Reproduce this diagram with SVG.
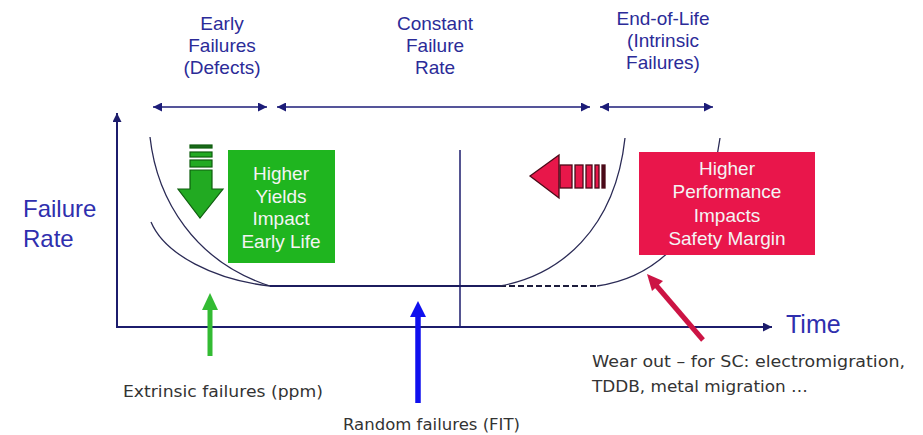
<svg xmlns="http://www.w3.org/2000/svg" width="923" height="435" viewBox="0 0 923 435">
<defs>
<style>
.hdr{font-family:"Liberation Sans",Arial,sans-serif;font-size:19px;fill:#2b2b98;text-anchor:middle}
.axl{font-family:"Liberation Sans",Arial,sans-serif;fill:#2f2fae}
.box{font-family:"Liberation Sans",Arial,sans-serif;font-size:19px;fill:#f4f4f4;text-anchor:middle}
.note{font-family:"DejaVu Sans",Verdana,sans-serif;font-size:15px;fill:#333}
.ax{stroke:#1c1c6c;stroke-width:2;fill:none}
.span{stroke:#1c1c78;stroke-width:1.6;fill:none}
.crv{stroke:#2a2a55;stroke-width:1.3;fill:none}
</style>
<marker id="ah" viewBox="0 0 10 10" refX="10" refY="5" markerWidth="11" markerHeight="9" markerUnits="userSpaceOnUse" orient="auto-start-reverse">
<path d="M0,0 L10,5 L0,10 Z" fill="#1c1c78"/>
</marker>
<marker id="axh" viewBox="0 0 10 10" refX="10" refY="5" markerWidth="12" markerHeight="9" markerUnits="userSpaceOnUse" orient="auto">
<path d="M0,0 L10,5 L0,10 Z" fill="#1c1c6c"/>
</marker>
</defs>
<rect width="923" height="435" fill="#ffffff"/>

<g id="connectors">
<path class="ax" d="M117,328 L117,113" marker-end="url(#axh)"/>
<path class="ax" d="M116,327 L772,327" marker-end="url(#axh)"/>
<path class="span" d="M153,107 L267,107" marker-start="url(#ah)" marker-end="url(#ah)"/>
<path class="span" d="M277,107 L590,107" marker-start="url(#ah)" marker-end="url(#ah)"/>
<path class="span" d="M600,107 L713,107" marker-start="url(#ah)" marker-end="url(#ah)"/>
<path d="M460,150 L460,328" stroke="#1c1c6c" stroke-width="1.5"/>
<path class="crv" d="M150,137 C157,200 195,262 270,286"/>
<path class="crv" d="M151,222 C165,255 215,280 270,286"/>
<path d="M270,286 L500,286" stroke="#1c1c5e" stroke-width="2"/>
<path d="M500,286 L597,286" stroke="#1c1c3c" stroke-width="1.8" stroke-dasharray="6 3"/>
<path class="crv" d="M500,286 C560,275 615,230 625,138"/>
<path class="crv" d="M597,286 C640,280 705,250 720,138"/>
<path d="M210,356 L210,306" stroke="#33bb33" stroke-width="5"/>
<path d="M202,310 L210,293 L218,310 Z" fill="#33bb33"/>
<path d="M418,403 L418,313" stroke="#1010ee" stroke-width="5.5"/>
<path d="M410,317 L418,301 L426,317 Z" fill="#1010ee"/>
<path d="M703,340 L655,284" stroke="#cc1444" stroke-width="5"/>
<path d="M647,274 L663,281 L652,291 Z" fill="#cc1444"/>
</g>

<g id="hdr-early">
<text class="hdr" x="222" y="30">Early</text>
<text class="hdr" x="222" y="52">Failures</text>
<text class="hdr" x="222" y="74">(Defects)</text>
</g>
<g id="hdr-constant">
<text class="hdr" x="435" y="30">Constant</text>
<text class="hdr" x="435" y="52">Failure</text>
<text class="hdr" x="435" y="74">Rate</text>
</g>
<g id="hdr-eol">
<text class="hdr" x="663" y="25">End-of-Life</text>
<text class="hdr" x="663" y="47">(Intrinsic</text>
<text class="hdr" x="663" y="69">Failures)</text>
</g>

<g id="ylabel">
<text class="axl" x="23" y="217" font-size="24">Failure</text>
<text class="axl" x="23" y="247" font-size="24">Rate</text>
</g>
<g id="xlabel">
<text class="axl" x="786" y="333" font-size="25">Time</text>
</g>

<g id="green-arrow" fill="#22aa22" stroke="#0e5e0e" stroke-width="1.2">
<rect x="190" y="145" width="22" height="3" fill="#1a6a1a"/>
<rect x="190" y="152" width="22" height="5"/>
<rect x="190" y="160" width="22" height="7"/>
<path d="M190,170 L212,170 L212,189 L223,189 L200,218 L178,189 L190,189 Z"/>
</g>

<g id="green-box">
<rect x="228" y="150" width="107" height="113" fill="#1fb51f"/>
<text class="box" x="281" y="180">Higher</text>
<text class="box" x="281" y="203">Yields</text>
<text class="box" x="281" y="225">Impact</text>
<text class="box" x="281" y="248">Early Life</text>
</g>

<g id="red-arrow" fill="#e8174a" stroke="#4a0a18" stroke-width="1.3">
<path d="M530,176 L559,155 L559,198 Z"/>
<rect x="560" y="165" width="12" height="23"/>
<rect x="575" y="165" width="8" height="23"/>
<rect x="586" y="165" width="6" height="23"/>
<rect x="595" y="165" width="4" height="23"/>
<rect x="602" y="165" width="3" height="23" fill="#4a0a18"/>
</g>

<g id="red-box">
<rect x="639" y="152" width="176" height="103" fill="#e9164b"/>
<text class="box" x="727" y="175">Higher</text>
<text class="box" x="727" y="198">Performance</text>
<text class="box" x="727" y="222">Impacts</text>
<text class="box" x="727" y="245">Safety Margin</text>
</g>

<g id="note-extrinsic">
<text class="note" x="123" y="397" textLength="200" lengthAdjust="spacingAndGlyphs">Extrinsic failures (ppm)</text>
</g>
<g id="note-random">
<text class="note" x="343" y="430" textLength="177" lengthAdjust="spacingAndGlyphs">Random failures (FIT)</text>
</g>
<g id="note-wearout">
<text class="note" x="592" y="367" textLength="313" lengthAdjust="spacingAndGlyphs">Wear out – for SC: electromigration,</text>
<text class="note" x="592" y="392" textLength="216" lengthAdjust="spacingAndGlyphs">TDDB, metal migration …</text>
</g>
</svg>
